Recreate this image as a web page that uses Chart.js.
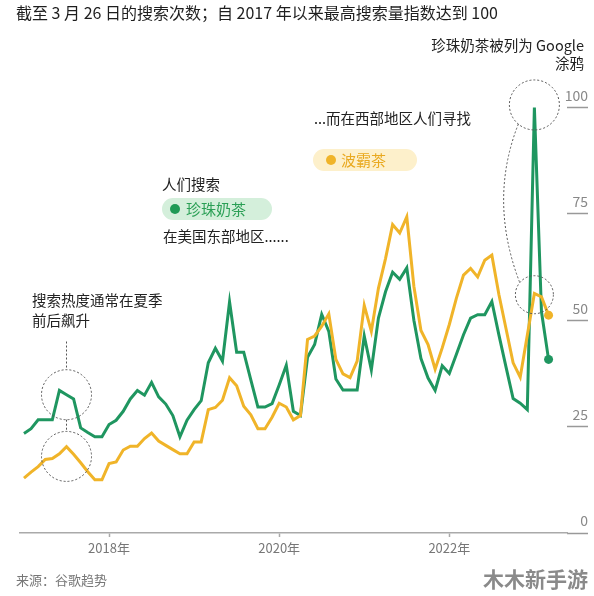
<!DOCTYPE html>
<html>
<head>
<meta charset="utf-8">
<script src="https://cdn.jsdelivr.net/npm/chart.js@4/dist/chart.umd.min.js"></script>
<style>
  html, body { margin: 0; padding: 0; background: #fff; }
  #wrap { position: relative; width: 594px; height: 596px; overflow: hidden;
          font-family: 'Noto Sans CJK SC', 'Noto Sans', sans-serif; color: #222; }
  #chart { position: absolute; left: 0; top: 0; }
  .t { position: absolute; white-space: nowrap; line-height: 1; }
  .pill { position: absolute; height: 22px; border-radius: 11px; }
  .pill .dot { position: absolute; top: 6px; width: 10px; height: 10px; border-radius: 50%; }
  .pill .lbl { position: absolute; top: 3px; font-size: 15px; line-height: 16px; white-space: nowrap; }
</style>
</head>
<body>
<div id="wrap">
  <canvas id="chart" width="594" height="596"></canvas>
  <div class="t" style="left:16px;top:4px;font-size:16px;color:#1e1e1e;">截至 3 月 26 日的搜索次数；自 2017 年以来最高搜索量指数达到 100</div>
  <div class="t" style="right:10px;top:36px;font-size:14.5px;line-height:18px;text-align:right;">珍珠奶茶被列为 Google<br>涂鸦</div>
  <div class="t" style="left:314px;top:111px;font-size:14.5px;">...而在西部地区人们寻找</div>
  <div class="pill" style="left:313px;top:149px;width:104px;background:#fdf0cb;">
    <div class="dot" style="left:13px;background:#f0b429;"></div>
    <div class="lbl" style="left:28px;color:#e9a920;">波霸茶</div>
  </div>
  <div class="t" style="left:162px;top:177px;font-size:14.5px;">人们搜索</div>
  <div class="pill" style="left:162px;top:198px;width:110px;background:#d4efdb;">
    <div class="dot" style="left:8px;background:#1f9a55;"></div>
    <div class="lbl" style="left:24px;color:#2a9f55;">珍珠奶茶</div>
  </div>
  <div class="t" style="left:163px;top:229px;font-size:14.5px;">在美国东部地区......</div>
  <div class="t" style="left:32px;top:290px;font-size:14.5px;line-height:20px;">搜索热度通常在夏季<br>前后飙升</div>
  <div class="t" style="left:16px;top:573px;font-size:13px;color:#777;">来源：谷歌趋势</div>
  <div class="t" style="right:6px;top:568px;font-size:21px;font-weight:bold;color:#8a8a8a;">木木新手游</div>
</div>
<script>
// ---- data (monthly, Jan 2017 – Mar 2023; Google Trends index) ----
const months = [];
for (let y = 2017; y <= 2023; y++) {
  for (let m = 1; m <= 12; m++) {
    if (y === 2023 && m > 3) break;
    months.push(y + '-' + String(m).padStart(2, '0'));
  }
}
const pearlMilkTea = [ // 珍珠奶茶 (green)
  23.4,24.5,26.6,26.6,26.6,33.5,32.5,31.5,24.7,23.6,
  22.6,22.6,25.5,26.5,28.6,31.5,33.5,32.4,35.4,32,
  30.3,27.6,22.6,26.5,29,31.1,40,43.4,40.4,54.3,
  42.5,42.5,36,29.6,29.6,30.4,34.8,39.4,28.6,27.6,
  41.3,44.3,51.4,47.4,36.2,33.6,33.6,33.6,46.3,38.3,
  50.5,56.7,61.3,59.6,62.3,50,41,36.4,33.5,39.3,
  37.5,42,46.6,50.5,51.3,51.3,54.4,46.5,39,31.6,
  30.5,29,100,52,40.8
];
const bobaTea = [ // 波霸茶 (yellow)
  12.9,14.3,15.6,17.3,17.5,18.6,20.3,18.5,16.5,14.4,
  12.5,12.5,16.3,16.7,19.5,20.4,20.4,22.2,23.5,21.6,
  20.6,19.6,18.6,18.6,21.4,21.4,29,29.5,31.2,36.5,
  34.6,29.8,27.8,24.5,24.5,27.2,30.5,29.6,26.6,27.6,
  45.5,46.3,48.6,51.5,40.8,37.4,36.5,40.4,53.5,47.4,
  57.5,64.5,72.5,70.5,74.3,58,47.6,44.3,38.5,43.5,
  49,55.2,60.6,62.2,60.2,64.1,65.3,56,48,40,
  36.6,46.5,56.3,55.5,51.2
];
const xTickMonths = ['2018-01', '2020-01', '2022-01'];
const xTickLabels = ['2018年', '2020年', '2022年'];
const yTickValues = [0, 25, 50, 75, 100];

const GREEN = '#1f9660';
const YELLOW = '#f0b429';

const toPoints = arr => arr.map((v, i) => ({ x: i, y: v }));
const lastIdx = months.length - 1;

const annotations = {
  id: 'annotations',
  afterDatasetsDraw(chart) {
    const { ctx, scales: { x, y } } = chart;
    const iSummer = months.indexOf('2017-07');
    const iDoodle = months.indexOf('2023-01');
    ctx.save();
    ctx.strokeStyle = '#555';
    ctx.lineWidth = 1;
    ctx.setLineDash([2, 2]);
    const circle = (cx, cy, r) => { ctx.beginPath(); ctx.arc(cx, cy, r, 0, Math.PI * 2); ctx.stroke(); };
    // summer peak circles
    const sx = x.getPixelForValue(iSummer);
    const gy = y.getPixelForValue(32.5), yy = y.getPixelForValue(18);
    circle(sx, gy, 25);
    circle(sx, yy, 25);
    ctx.beginPath();
    ctx.moveTo(sx, y.getPixelForValue(45)); ctx.lineTo(sx, gy - 25);
    ctx.moveTo(sx, gy + 25); ctx.lineTo(sx, yy - 25);
    ctx.stroke();
    // doodle circles
    const dx = x.getPixelForValue(iDoodle);
    const topY = y.getPixelForValue(100.6), lowY = y.getPixelForValue(56);
    circle(dx, topY, 25);
    circle(dx, lowY, 19);
    ctx.beginPath();
    ctx.moveTo(dx - 16, topY + 19);
    ctx.quadraticCurveTo(dx - 46, (topY + lowY) / 2, dx - 15, lowY - 13);
    ctx.stroke();
    ctx.restore();
  }
};

Chart.defaults.font.family = "'Noto Sans CJK SC', 'Noto Sans', sans-serif";

new Chart(document.getElementById('chart'), {
  type: 'line',
  data: {
    datasets: [
      {
        label: '波霸茶',
        data: toPoints(bobaTea),
        borderColor: YELLOW, backgroundColor: YELLOW,
        borderWidth: 3, tension: 0, clip: false,
        pointRadius: c => c.dataIndex === lastIdx ? 4.5 : 0,
        pointBorderWidth: 0
      },
      {
        label: '珍珠奶茶',
        data: toPoints(pearlMilkTea),
        borderColor: GREEN, backgroundColor: GREEN,
        borderWidth: 3, tension: 0, clip: false,
        pointRadius: c => c.dataIndex === lastIdx ? 4.5 : 0,
        pointBorderWidth: 0
      }
    ]
  },
  options: {
    responsive: false,
    animation: false,
    events: [],
    layout: { padding: { left: 20, right: 6, top: 107.5, bottom: 37.4 } },
    plugins: { legend: { display: false }, tooltip: { enabled: false } },
    scales: {
      x: {
        type: 'linear',
        min: -0.56,
        max: 76.6,
        afterBuildTicks: s => { s.ticks = xTickMonths.map(m => ({ value: months.indexOf(m) })); },
        ticks: {
          callback: (v, i) => xTickLabels[i],
          color: '#777', font: { size: 13 }, padding: 3, maxRotation: 0, autoSkip: false
        },
        grid: { display: true, drawOnChartArea: false, tickLength: 4, tickColor: '#aaa', tickWidth: 1.5 },
        border: { display: true, color: '#aaa', width: 1.5 }
      },
      y: {
        position: 'right',
        min: 0, max: 100,
        afterBuildTicks: s => { s.ticks = yTickValues.map(v => ({ value: v })); },
        afterFit: s => { s.width = 21; },
        ticks: {
          mirror: true, padding: 21, labelOffset: -12,
          color: '#888', font: { size: 14 }
        },
        grid: { display: true, drawOnChartArea: false, tickLength: 21, tickColor: '#999', tickWidth: 1.5 },
        border: { display: false }
      }
    }
  },
  plugins: [annotations]
});
</script>
</body>
</html>
